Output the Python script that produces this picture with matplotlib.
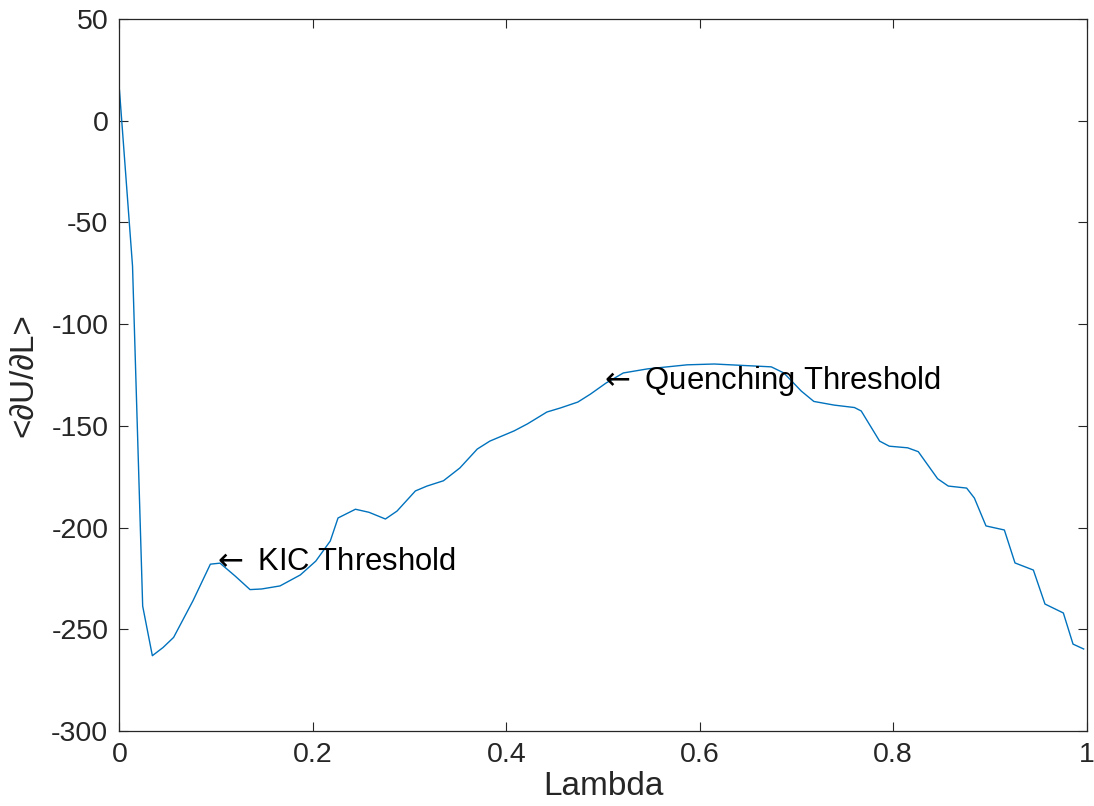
import matplotlib
matplotlib.use("Agg")
import matplotlib.pyplot as plt

plt.rcParams['font.family'] = ['Liberation Sans', 'DejaVu Sans']
plt.rcParams['axes.unicode_minus'] = False

# values
lam = [0, 0.0135, 0.024, 0.034, 0.045, 0.056, 0.076, 0.094, 0.104, 0.12,
       0.135, 0.147, 0.166, 0.187, 0.203, 0.218, 0.226, 0.244, 0.258, 0.275,
       0.287, 0.306, 0.318, 0.335, 0.352, 0.37, 0.383, 0.408, 0.422, 0.442,
       0.456, 0.474, 0.487, 0.503, 0.521, 0.546, 0.587, 0.615, 0.674, 0.687,
       0.705, 0.718, 0.739, 0.76, 0.767, 0.786, 0.796, 0.815, 0.826, 0.846,
       0.857, 0.876, 0.884, 0.896, 0.915, 0.926, 0.945, 0.957, 0.976, 0.986,
       0.997]
dudl = [15, -71.4, -238.6, -263, -259, -254, -236, -218, -217.5, -224,
        -230.5, -230.2, -228.7, -223.3, -216.5, -206.6, -195.3, -191, -192.5, -195.8,
        -191.9, -182, -179.6, -177, -170.7, -161.4, -157.5, -152.5, -149, -143.2,
        -141.2, -138.3, -134.4, -129, -124, -122, -120, -119.6, -121, -124,
        -132.9, -138, -139.8, -141, -142.7, -157.5, -160, -160.8, -162.7, -176,
        -179.6, -180.6, -185.5, -199.2, -201.2, -217.4, -220.9, -237.6, -242, -257.3,
        -259.7]

notes = [r'$\leftarrow$ KIC Threshold', r'$\leftarrow$ Quenching Threshold']
note_x = [0.1, 0.5]
note_y = [-217, -128]

xticks = [0, 0.2, 0.4, 0.6, 0.8, 1]
xticklabels = ['0', '0.2', '0.4', '0.6', '0.8', '1']
yticks = [-300, -250, -200, -150, -100, -50, 0, 50]

dark = '#262626'

fig = plt.figure(figsize=(10.94, 8.06), dpi=100)
ax = fig.add_axes([0.1092, 0.0931, 0.8840, 0.8833])

ax.plot(lam, dudl, color='#0072BD', lw=1.0)

for t, x, y in zip(notes, note_x, note_y):
    ax.annotate(t, (x, y), xytext=(-5, 0), textcoords='offset pixels',
                fontsize=22.3, ha='left', va='center', color='black')

ax.set_xlim(0, 1)
ax.set_ylim(-300, 50)
ax.set_xticks(xticks)
ax.set_xticklabels(xticklabels)
ax.set_yticks(yticks)
ax.set_xlabel('Lambda', fontsize=24, color=dark, labelpad=2)
ax.set_ylabel('<\u2202U/\u2202L>', fontsize=24, color=dark)
ax.yaxis.set_label_coords(-0.083, 0.5)

ax.tick_params(direction='in', length=6.5, width=0.8, colors=dark,
               labelsize=20.5, top=True, right=True, pad=8)
for s in ax.spines.values():
    s.set_color(dark)
    s.set_linewidth(0.9)

fig.savefig('out.png', dpi=100)
